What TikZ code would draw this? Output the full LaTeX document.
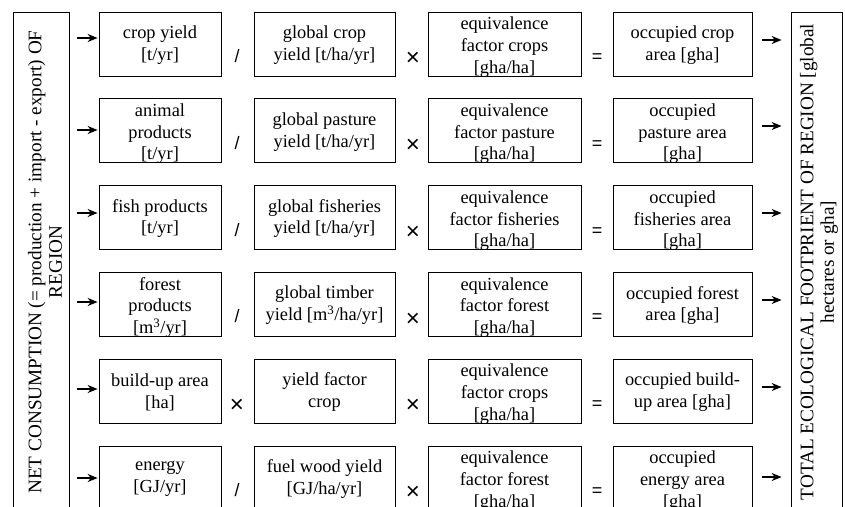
\documentclass[tikz,border=0pt]{standalone}
\usepackage{fontspec}
\setmainfont{Liberation Serif}
\newfontfamily\opfont{Liberation Sans}
\usetikzlibrary{arrows.meta}
\begin{document}
\begin{tikzpicture}[x=1pt,y=-1pt,
  box/.style={draw, line width=0.8pt, minimum height=64pt, inner sep=0pt},
  cA/.style={box, minimum width=122pt},
  cB/.style={box, minimum width=141pt},
  cC/.style={box, minimum width=153pt},
  cD/.style={box, minimum width=139pt},
  txt/.style={align=center, inner sep=0pt, font=\fontsize{18.4}{21.7}\selectfont},
  op/.style={inner sep=0pt, font=\opfont\fontsize{18}{20}\selectfont},
  tm/.style={inner sep=0pt, font=\opfont\fontsize{24}{24}\selectfont},
  arr/.style={line width=1.3pt, -{Stealth[length=10pt,width=8pt]}},
  side/.style={draw, line width=0.8pt, inner sep=0pt},
  sidetxt/.style={align=center, inner sep=0pt, rotate=90, font=\fontsize{19.2}{20.5}\selectfont}
]
\useasboundingbox (0,0) rectangle (845,506);

% side boxes
\node[side, minimum width=56pt, minimum height=500pt] (L) at (41,262) {};
\node[sidetxt] (Lt) at (45,262) {NET CONSUMPTION (= production + import - export) OF\\REGION};
\node[side, minimum width=51pt, minimum height=500pt] (R) at (816.5,262) {};
\node[sidetxt] (Rt) at (819,262) {TOTAL ECOLOGICAL FOOTPRIENT OF REGION [global\\hectares or gha]};

% row 1 (top 12)
\node[cA] (a1) at (160,44) {};
\node[cB] (b1) at (324.5,44) {};
\node[cC] (c1) at (504.5,44) {};
\node[cD] (d1) at (682.5,44) {};
\node[txt] (ta1) at ([yshift=-1pt]a1.center) {crop yield\\{}[t/yr]};
\node[txt] (tb1) at ([yshift=-1pt]b1.center) {global crop\\yield [t/ha/yr]};
\node[txt] (tc1) at ([yshift=-3pt]c1.center) {equivalence\\factor crops\\{}[gha/ha]};
\node[txt] (td1) at ([yshift=-1pt]d1.center) {occupied crop\\area [gha]};
\node[op] (o11) at (237,56) {/};
\node[tm] (o12) at (413,59) {×};
\node[op] (o13) at (597,58) {=};

% row 2 (top 98.8)
\node[cA] (a2) at (160,130.8) {};
\node[cB] (b2) at (324.5,130.8) {};
\node[cC] (c2) at (504.5,130.8) {};
\node[cD] (d2) at (682.5,130.8) {};
\node[txt] (ta2) at ([yshift=-3pt]a2.center) {animal\\products\\{}[t/yr]};
\node[txt] (tb2) at ([yshift=-1pt]b2.center) {global pasture\\yield [t/ha/yr]};
\node[txt] (tc2) at ([yshift=-3pt]c2.center) {equivalence\\factor pasture\\{}[gha/ha]};
\node[txt] (td2) at ([yshift=-3pt]d2.center) {occupied\\pasture area\\{}[gha]};
\node[op] (o21) at (237,142.8) {/};
\node[tm] (o22) at (413,145.8) {×};
\node[op] (o23) at (597,144.8) {=};

% row 3 (top 185.6)
\node[cA] (a3) at (160,217.6) {};
\node[cB] (b3) at (324.5,217.6) {};
\node[cC] (c3) at (504.5,217.6) {};
\node[cD] (d3) at (682.5,217.6) {};
\node[txt] (ta3) at ([yshift=-1pt]a3.center) {fish products\\{}[t/yr]};
\node[txt] (tb3) at ([yshift=-1pt]b3.center) {global fisheries\\yield [t/ha/yr]};
\node[txt] (tc3) at ([yshift=-3pt]c3.center) {equivalence\\factor fisheries\\{}[gha/ha]};
\node[txt] (td3) at ([yshift=-3pt]d3.center) {occupied\\fisheries area\\{}[gha]};
\node[op] (o31) at (237,229.6) {/};
\node[tm] (o32) at (413,232.6) {×};
\node[op] (o33) at (597,231.6) {=};

% row 4 (top 272.4)
\node[cA] (a4) at (160,304.4) {};
\node[cB] (b4) at (324.5,304.4) {};
\node[cC] (c4) at (504.5,304.4) {};
\node[cD] (d4) at (682.5,304.4) {};
\node[txt] (ta4) at ([yshift=-3pt]a4.center) {forest\\products\\{}[m\textsuperscript{3}/yr]};
\node[txt] (tb4) at ([yshift=-1pt]b4.center) {global timber\\yield [m\textsuperscript{3}/ha/yr]};
\node[txt] (tc4) at ([yshift=-3pt]c4.center) {equivalence\\factor forest\\{}[gha/ha]};
\node[txt] (td4) at ([yshift=-1pt]d4.center) {occupied forest\\area [gha]};
\node[op] (o41) at (237,316.4) {/};
\node[tm] (o42) at (413,319.4) {×};
\node[op] (o43) at (597,318.4) {=};

% row 5 (top 359.2)
\node[cA] (a5) at (160,391.2) {};
\node[cB] (b5) at (324.5,391.2) {};
\node[cC] (c5) at (504.5,391.2) {};
\node[cD] (d5) at (682.5,391.2) {};
\node[txt] (ta5) at ([yshift=-1pt]a5.center) {build-up area\\{}[ha]};
\node[txt] (tb5) at ([yshift=-1pt]b5.center) {yield factor\\crop};
\node[txt] (tc5) at ([yshift=-3pt]c5.center) {equivalence\\factor crops\\{}[gha/ha]};
\node[txt] (td5) at ([yshift=-1pt]d5.center) {occupied build-\\up area [gha]};
\node[tm] (o51) at (237,406.2) {×};
\node[tm] (o52) at (413,406.2) {×};
\node[op] (o53) at (597,405.2) {=};

% row 6 (top 446)
\node[cA] (a6) at (160,478) {};
\node[cB] (b6) at (324.5,478) {};
\node[cC] (c6) at (504.5,478) {};
\node[cD] (d6) at (682.5,478) {};
\node[txt] (ta6) at ([yshift=-1pt]a6.center) {energy\\{}[GJ/yr]};
\node[txt] (tb6) at ([yshift=-1pt]b6.center) {fuel wood yield\\{}[GJ/ha/yr]};
\node[txt] (tc6) at ([yshift=-3pt]c6.center) {equivalence\\factor forest\\{}[gha/ha]};
\node[txt] (td6) at ([yshift=-3pt]d6.center) {occupied\\energy area\\{}[gha]};
\node[op] (o61) at (237,490) {/};
\node[tm] (o62) at (413,493) {×};
\node[op] (o63) at (597,492) {=};

% arrow start coordinates
\coordinate (l1) at (77,38);
\coordinate (l2) at (77,130);
\coordinate (l3) at (77,213);
\coordinate (l4) at (77,302);
\coordinate (l5) at (77,389);
\coordinate (l6) at (77,478);
\coordinate (r1) at (762,40);
\coordinate (r2) at (762,126);
\coordinate (r3) at (762,213);
\coordinate (r4) at (762,300);
\coordinate (r5) at (762,387);
\coordinate (r6) at (762,477);

\foreach \i in {1,...,6}{
  \draw[arr] (l\i) -- ([xshift=-1pt]l\i -| a\i.west);
  \draw[arr] (r\i) -- ([xshift=-9pt]r\i -| R.west);
}
\end{tikzpicture}
\end{document}
